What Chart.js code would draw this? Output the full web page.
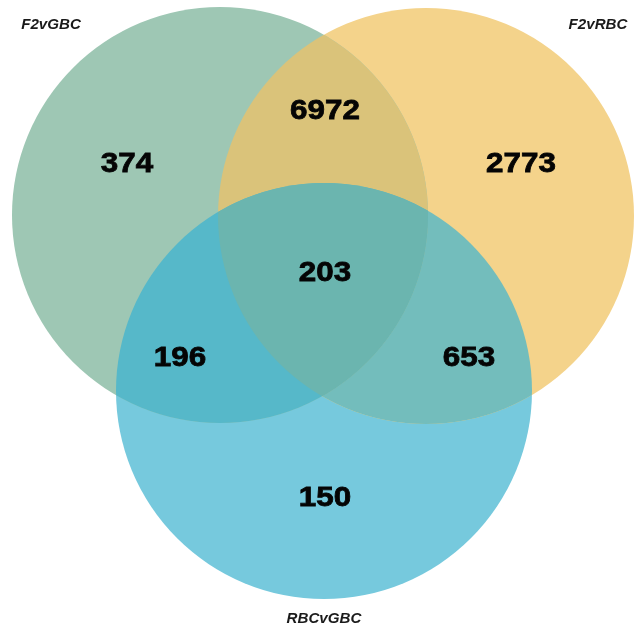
<!DOCTYPE html>
<html>
<head>
<meta charset="utf-8">
<script src="https://cdn.jsdelivr.net/npm/chart.js@4"></script>
<style>
  html, body { margin: 0; padding: 0; background: #fff; }
  #wrap { width: 638px; height: 629px; position: relative; }
</style>
</head>
<body>
<div id="wrap"><canvas id="venn"></canvas></div>
<script>
// sets and region counts
const setNames = ['F2vGBC', 'F2vRBC', 'RBCvGBC'];
const regionNames = ['F2vGBC only', 'F2vRBC only', 'RBCvGBC only',
                     'F2vGBC & F2vRBC', 'F2vGBC & RBCvGBC', 'F2vRBC & RBCvGBC', 'all three'];
const regionCounts = [374, 2773, 150, 6972, 196, 653, 203];

// layout (in the 638 x 629 plot space)
const circleLayout = [
  { x: 220, y: 215, r: 208 },
  { x: 426, y: 216, r: 208 },
  { x: 324, y: 391, r: 208 }
];
const regionLabelPos = [
  [127, 163], [521, 163], [325, 497],
  [325, 110], [180, 357], [469, 357], [325, 272]
];
const setLabelPos = [[51, 25], [598, 25], [324, 619]];

const setColors = ['#9ec7b4', '#f4d38b', '#76c9dd'];
const pairColors = { '01': '#dac37a', '02': '#56b8c9', '12': '#73bdbc' };
const tripleColor = '#6bb5af';

// paint overlaps on top of the bubbles
const overlapPlugin = {
  id: 'overlaps',
  afterDatasetsDraw(chart) {
    const ctx = chart.ctx;
    const circ = [0, 1, 2].map(i => {
      const el = chart.getDatasetMeta(i).data[0];
      return { x: el.x, y: el.y, r: el.options.radius };
    });
    const path = c => { ctx.beginPath(); ctx.arc(c.x, c.y, c.r, 0, Math.PI * 2); };

    Object.keys(pairColors).forEach(k => {
      const a = circ[+k[0]], b = circ[+k[1]];
      ctx.save();
      path(a); ctx.clip();
      path(b); ctx.fillStyle = pairColors[k]; ctx.fill();
      ctx.restore();
    });

    ctx.save();
    path(circ[0]); ctx.clip();
    path(circ[1]); ctx.clip();
    path(circ[2]); ctx.fillStyle = tripleColor; ctx.fill();
    ctx.restore();
  }
};

// counts + set names
const labelPlugin = {
  id: 'vennLabels',
  afterDraw(chart) {
    const ctx = chart.ctx;
    const xs = chart.scales.x, ys = chart.scales.y;
    ctx.save();
    ctx.textAlign = 'center';
    ctx.textBaseline = 'middle';
    ctx.fillStyle = '#050505';
    ctx.strokeStyle = '#050505';
    ctx.lineWidth = 0.8;
    regionCounts.forEach((v, i) => {
      const px = xs.getPixelForValue(regionLabelPos[i][0]);
      const py = ys.getPixelForValue(regionLabelPos[i][1]);
      ctx.save();
      ctx.translate(px, py);
      ctx.scale(1.12, 1);
      ctx.font = 'bold 28px "Liberation Sans", Arial, sans-serif';
      ctx.fillText(String(v), 0, 1);
      ctx.strokeText(String(v), 0, 1);
      ctx.restore();
    });
    ctx.fillStyle = '#1a1a1a';
    setNames.forEach((s, i) => {
      const px = xs.getPixelForValue(setLabelPos[i][0]);
      const py = ys.getPixelForValue(setLabelPos[i][1]);
      ctx.save();
      ctx.translate(px, py);
      ctx.scale(1.08, 1);
      ctx.font = 'italic bold 14px "Liberation Sans", Arial, sans-serif';
      ctx.fillText(s, 0, 0);
      ctx.restore();
    });
    ctx.restore();
  }
};

new Chart(
  document.getElementById('venn'),
  {
    type: 'bubble',
    data: {
      datasets: setNames.map((name, i) => ({
        label: name,
        data: [circleLayout[i]],
        backgroundColor: setColors[i],
        borderWidth: 0,
        hoverBorderWidth: 0,
        clip: false
      }))
    },
    options: {
      responsive: true,
      maintainAspectRatio: false,
      animation: false,
      events: [],
      layout: { padding: 0, autoPadding: false },
      scales: {
        x: { type: 'linear', min: 0, max: 638, display: false },
        y: { type: 'linear', min: 0, max: 629, reverse: true, display: false }
      },
      plugins: {
        legend: { display: false },
        tooltip: { enabled: false }
      }
    },
    plugins: [overlapPlugin, labelPlugin]
  }
);
</script>
</body>
</html>
